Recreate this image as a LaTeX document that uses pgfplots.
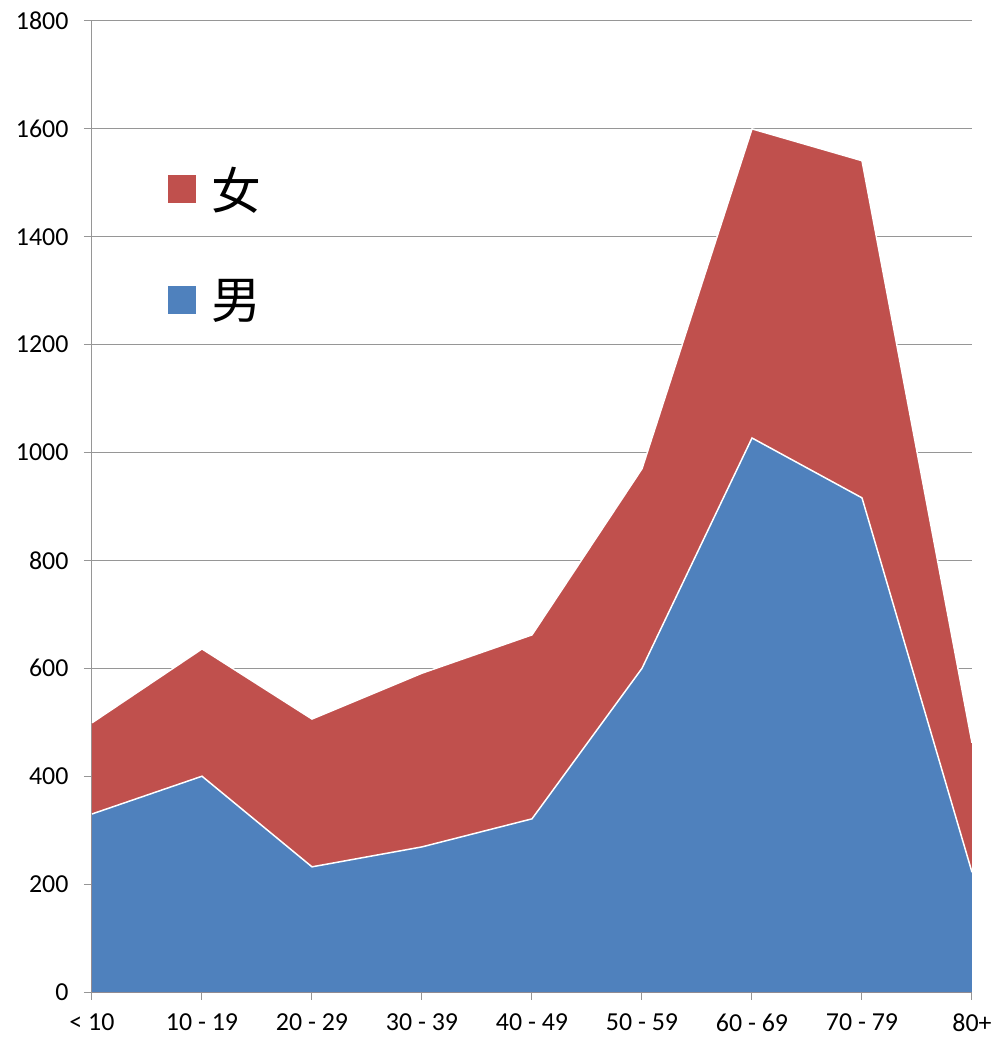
\documentclass[border=0pt]{standalone}
\usepackage{pgfplots}
\pgfplotsset{compat=1.18}
\usepackage{fontspec}
\setmainfont{Carlito}
\newfontfamily\cjk{Noto Sans CJK SC}
\definecolor{femred}{HTML}{C0504D}
\definecolor{maleblue}{HTML}{4F81BD}
\definecolor{gridgray}{RGB}{150,150,150}
\begin{document}
\begin{tikzpicture}
\begin{axis}[
  name=ax,
  scale only axis,
  width=880bp, height=971bp,
  xmin=0, xmax=8, ymin=0, ymax=1800,
  xtick={0,...,8},
  xticklabels={< 10, 10 - 19, 20 - 29, 30 - 39, 40 - 49, 50 - 59, 60 - 69, 70 - 79, 80+},
  ytick={0,200,...,1800},
  axis lines*=left,
  axis line style={gridgray, line width=1bp, -},
  ymajorgrids, major grid style={gridgray, line width=1bp},
  tick align=outside, major tick length=8bp,
  tick style={gridgray, line width=1bp},
  tick label style={font=\fontsize{26}{30}\selectfont, black},
  /pgf/number format/assume math mode=true,
  /pgf/number format/1000 sep={},
  xticklabel style={yshift=-10bp},
  yticklabel style={xshift=-12bp},
  legend style={at={(0.086,0.852)}, anchor=north west, draw=none, fill=none,
    font=\cjk\fontsize{50}{54}\selectfont, row sep=65bp, inner sep=0pt,
    /tikz/every odd column/.append style={column sep=14bp}},
  legend cell align=left,
]
% totals (male + female)
\addplot[fill=femred, draw=none, forget plot] coordinates {
 (0,499) (1,636) (2,506) (3,591) (4,662) (5,970) (6,1600) (7,1541) (8,462)} \closedcycle;
\addplot[white, line width=1.5bp, forget plot] coordinates {
 (0,499) (1,636) (2,506) (3,591) (4,662) (5,970) (6,1600) (7,1541) (8,462)};
% male
\addplot[fill=maleblue, draw=none, forget plot] coordinates {
 (0,330) (1,400) (2,232) (3,269) (4,321) (5,600) (6,1027) (7,916) (8,222)} \closedcycle;
\addplot[white, line width=1.5bp, forget plot] coordinates {
 (0,330) (1,400) (2,232) (3,269) (4,321) (5,600) (6,1027) (7,916) (8,222)};
\addlegendimage{legend image code/.code={\fill[femred] (0bp,-13bp) rectangle (27bp,14bp);}}
\addlegendentry{女}
\addlegendimage{legend image code/.code={\fill[maleblue] (0bp,-13bp) rectangle (27bp,14bp);}}
\addlegendentry{男}
\end{axis}
\path (ax.south west) ++(-92bp,-52bp) coordinate (bl);
\path (ax.north east) ++(23bp,21bp) coordinate (tr);
\path (bl) (tr);
\end{tikzpicture}
\end{document}
